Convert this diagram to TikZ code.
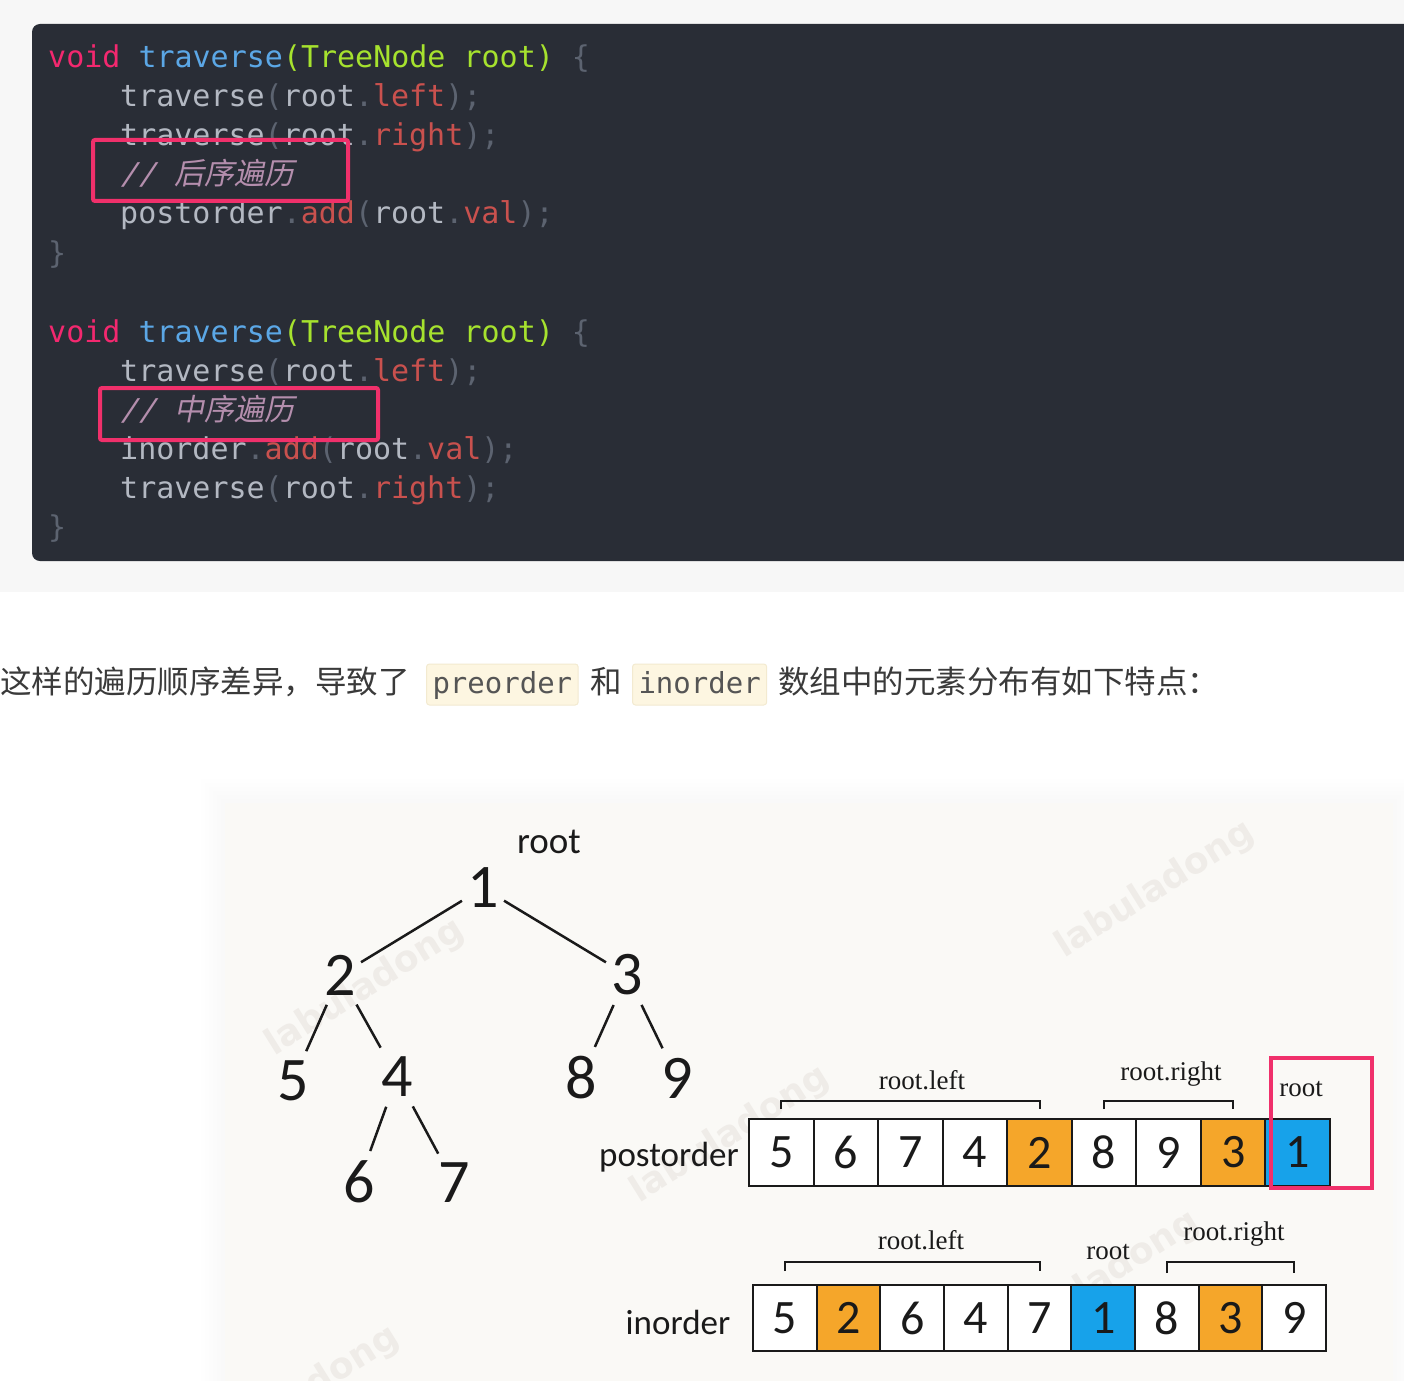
\documentclass[tikz,border=0pt]{standalone}
\usepackage{fontspec}
\setmainfont{Carlito}
\newfontfamily\cjk{Noto Sans CJK SC}
\newfontfamily\cjkit[FakeSlant=0.2]{Noto Sans CJK SC}
\newfontfamily\codef{DejaVu Sans Mono}
\newfontfamily\codeit[FakeSlant=0.2]{DejaVu Sans Mono}
\newfontfamily\serifd{Liberation Serif}
\newfontfamily\sansd{Carlito}
\newfontfamily\wmfont{DejaVu Sans}
\definecolor{pagebg}{HTML}{F7F7F7}
\definecolor{codebg}{HTML}{292D36}
\definecolor{kwc}{HTML}{F3286F}
\definecolor{fnc}{HTML}{5BA7E6}
\definecolor{tyc}{HTML}{A6E22E}
\definecolor{puc}{HTML}{5C6370}
\definecolor{idc}{HTML}{B3B8C2}
\definecolor{prc}{HTML}{C9514E}
\definecolor{cmc}{HTML}{B48EAD}
\definecolor{hlc}{HTML}{F0306B}
\definecolor{txtc}{HTML}{3A3A3A}
\definecolor{inlbg}{HTML}{FDF6E1}
\definecolor{inlbd}{HTML}{F3EAD0}
\definecolor{inltx}{HTML}{555555}
\definecolor{figbg}{HTML}{FAF9F6}
\definecolor{orc}{HTML}{F5A62A}
\definecolor{blc}{HTML}{17A2EA}
\definecolor{wmc}{HTML}{EFECE8}
\definecolor{ink}{HTML}{1A1A1A}
\newcommand\zkw[1]{\textcolor{kwc}{#1}}
\newcommand\zfn[1]{\textcolor{fnc}{#1}}
\newcommand\zty[1]{\textcolor{tyc}{#1}}
\newcommand\zpu[1]{\textcolor{puc}{#1}}
\newcommand\zid[1]{\textcolor{idc}{#1}}
\newcommand\zpr[1]{\textcolor{prc}{#1}}
\tikzset{
  codeline/.style={anchor=base west, inner sep=0, font=\codef\fontsize{30}{36}\selectfont},
  hlbox/.style={draw=hlc, line width=4, rounded corners=2, inner sep=0, anchor=north west},
  midtxt/.style={anchor=base west, inner sep=0, text=txtc, font=\cjk\fontsize{31.5}{36}\selectfont},
  inl/.style={anchor=base west, fill=inlbg, draw=inlbd, line width=1, rounded corners=3, inner xsep=6,
    inner ysep=7, text height=22, text depth=5, text=inltx, font=\codef\fontsize{29}{34}\selectfont},
  tnum/.style={inner xsep=0, inner ysep=4, text=ink, font=\sansd\fontsize{62}{62}\selectfont},
  tedge/.style={draw=ink, line width=2.5, shorten <=6, shorten >=6},
  cell/.style={draw=ink, line width=2, minimum height=67, inner sep=0, text=ink,
    font=\sansd\fontsize{48}{48}\selectfont},
  arrlab/.style={text=ink, font=\sansd\fontsize{35}{35}\selectfont},
  seglab/.style={text=ink, font=\serifd\fontsize{27}{27}\selectfont},
  brk/.style={draw=ink, line width=2},
  wm/.style={text=wmc, font=\wmfont\bfseries\fontsize{36}{36}\selectfont, rotate=32}
}
\begin{document}
\begin{tikzpicture}[x=1pt, y=-1pt]
\useasboundingbox (0,0) rectangle (1404,1380);
% backgrounds
\fill[white] (0,0) rectangle (1404,1380);
\fill[pagebg] (0,0) rectangle (1404,592);
\fill[codebg, rounded corners=8] (32,24) rectangle (1430,561);
% code block 1
\node[codeline] (a1) at (48,68) {\zkw{void} \zfn{traverse}\zty{(TreeNode root)} \zpu{\{}};
\node[codeline] (a2) at (120,107) {\zid{traverse}\zpu{(}\zid{root}\zpu{.}\zpr{left}\zpu{);}};
\node[codeline] (a3) at (120,146) {\zid{traverse}\zpu{(}\zid{root}\zpu{.}\zpr{right}\zpu{);}};
\node[codeline] (a4) at (120,185) {\textcolor{cmc}{\codeit //\ {\cjkit\fontsize{30}{36}\selectfont 后序遍历}}};
\node[codeline] (a5) at (120,224) {\zid{postorder}\zpu{.}\zpr{add}\zpu{(}\zid{root}\zpu{.}\zpr{val}\zpu{);}};
\node[codeline] (a6) at (48,263) {\zpu{\}}};
\node[hlbox, minimum width=255, minimum height=61] (h1) at (91,138) {};
% code block 2
\node[codeline] (b1) at (48,342) {\zkw{void} \zfn{traverse}\zty{(TreeNode root)} \zpu{\{}};
\node[codeline] (b2) at (120,381) {\zid{traverse}\zpu{(}\zid{root}\zpu{.}\zpr{left}\zpu{);}};
\node[codeline] (b3) at (120,420) {\textcolor{cmc}{\codeit //\ {\cjkit\fontsize{30}{36}\selectfont 中序遍历}}};
\node[codeline] (b4) at (120,459) {\zid{inorder}\zpu{.}\zpr{add}\zpu{(}\zid{root}\zpu{.}\zpr{val}\zpu{);}};
\node[codeline] (b5) at (120,498) {\zid{traverse}\zpu{(}\zid{root}\zpu{.}\zpr{right}\zpu{);}};
\node[codeline] (b6) at (48,537) {\zpu{\}}};
\node[hlbox, minimum width=278, minimum height=52] (h2) at (98,386) {};
% middle sentence
\node[midtxt] (m1) at (0,693) {这样的遍历顺序差异，导致了};
\node[inl] (m2) at (426,693) {preorder};
\node[midtxt] (m3) at (590,693) {和};
\node[inl] (m4) at (632,693) {inorder};
\node[midtxt] (m5) at (778,693) {数组中的元素分布有如下特点：};
% figure background with soft shadow
\foreach \i in {1,...,6}{
  \fill[black, opacity=0.0025] (225-\i*4,803-\i*4) rectangle (1393+\i*4,1400);
}
\fill[figbg] (225,803) rectangle (1393,1400);
% watermarks
\node[wm] (w1) at (1155,890) {labuladong};
\node[wm] (w2) at (365,988) {labuladong};
\node[wm] (w3) at (730,1135) {labuladong};
\node[wm] (w4) at (1100,1280) {labuladong};
\node[wm] (w5) at (300,1395) {labuladong};
% tree
\node[text=ink, font=\sansd\fontsize{37}{37}\selectfont, inner sep=0] (rt) at (549,842) {root};
\node[tnum] (t1) at (483,888) {1};
\node[tnum] (t2) at (340,975) {2};
\node[tnum] (t3) at (627,975) {3};
\node[tnum] (t5) at (293,1081) {5};
\node[tnum] (t4) at (397,1077) {4};
\node[tnum] (t8) at (581,1078) {8};
\node[tnum] (t9) at (677,1078) {9};
\node[tnum] (t6) at (359,1182) {6};
\node[tnum] (t7) at (454,1183) {7};
\draw[tedge] (t1) -- (t2);
\draw[tedge] (t1) -- (t3);
\draw[tedge] (t2) -- (t5);
\draw[tedge] (t2) -- (t4);
\draw[tedge] (t3) -- (t8);
\draw[tedge] (t3) -- (t9);
\draw[tedge] (t4) -- (t6);
\draw[tedge] (t4) -- (t7);
% postorder array
\node[arrlab] (pl) at (669,1157) {postorder};
\foreach \v/\c [count=\k] in {5/white,6/white,7/white,4/white,2/orc,8/white,9/white,3/orc,1/blc}{
  \node[cell, fill=\c, minimum width=64.6] (p\k) at (749+64.56*\k-32.28,1152.5) {\v};
}
\draw[brk] ([yshift=9]p1.north) -- ([yshift=17]p1.north) -- ([yshift=17]p5.north) -- ([yshift=9]p5.north);
\draw[brk] ([yshift=9]p6.north) -- ([yshift=17]p6.north) -- ([yshift=17]p8.north) -- ([yshift=9]p8.north);
\node[seglab] (pls) at (922,1080) {root.left};
\node[seglab] (prs) at (1171,1074) {root.right};
\node[seglab] (prt) at (1301,1089) {root};
\draw[draw=hlc, line width=4] (1271,1058) rectangle (1372,1188);
% inorder array
\node[arrlab] (il) at (678,1322) {inorder};
\foreach \v/\c [count=\k] in {5/white,2/orc,6/white,4/white,7/white,1/blc,8/white,3/orc,9/white}{
  \node[cell, fill=\c, minimum width=63.7, minimum height=66] (i\k) at (753+63.67*\k-31.83,1318) {\v};
}
\draw[brk] ([yshift=13]i1.north) -- ([yshift=22]i1.north) -- ([yshift=22]i5.north) -- ([yshift=13]i5.north);
\draw[brk] ([yshift=11]i7.north) -- ([yshift=22]i7.north) -- ([yshift=22]i9.north) -- ([yshift=11]i9.north);
\node[seglab] (ils) at (921,1240) {root.left};
\node[seglab] (irt) at (1108,1252) {root};
\node[seglab] (irs) at (1234,1234) {root.right};
\end{tikzpicture}
\end{document}
